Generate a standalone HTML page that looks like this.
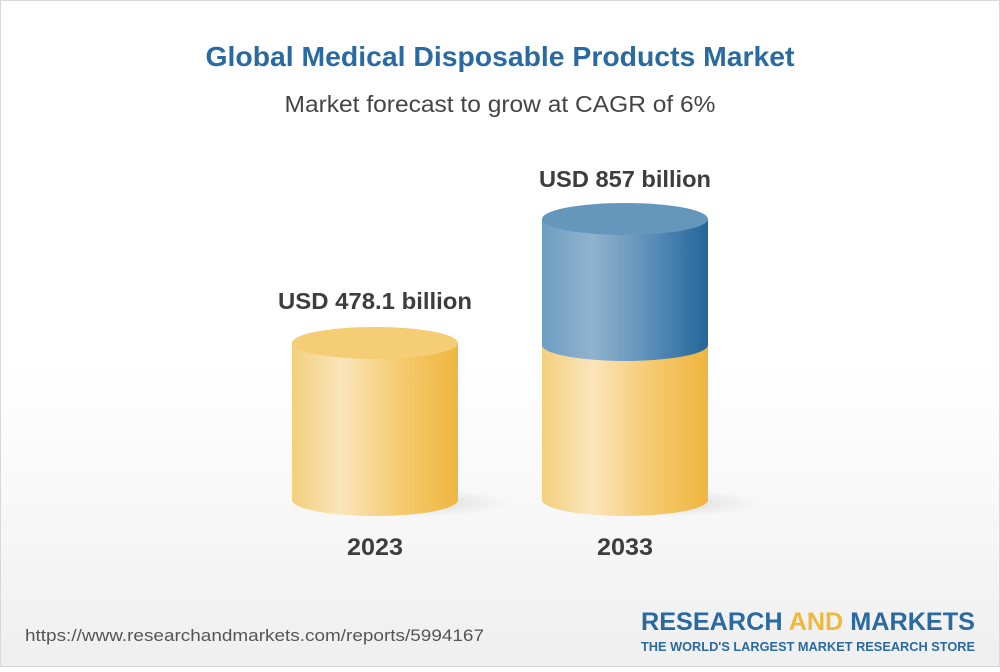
<!DOCTYPE html>
<html><head><style>
html,body{margin:0;padding:0;}
body{width:1000px;height:667px;overflow:hidden;font-family:"Liberation Sans",sans-serif;}
</style></head><body>
<svg width="1000" height="667" xmlns="http://www.w3.org/2000/svg">
<defs>
<linearGradient id="bg" x1="0" y1="0" x2="0" y2="1">
<stop offset="0" stop-color="#ffffff"/><stop offset="0.55" stop-color="#ffffff"/><stop offset="1" stop-color="#efefef"/></linearGradient>
<linearGradient id="yel" x1="0" y1="0" x2="1" y2="0">
<stop offset="0" stop-color="#f3cf7e"/><stop offset="0.3" stop-color="#fae5bb"/><stop offset="0.65" stop-color="#f5ca70"/><stop offset="1" stop-color="#efb63f"/></linearGradient>
<linearGradient id="blu" x1="0" y1="0" x2="1" y2="0">
<stop offset="0" stop-color="#6d9ec3"/><stop offset="0.3" stop-color="#91b3cd"/><stop offset="0.65" stop-color="#5b8fb9"/><stop offset="1" stop-color="#246699"/></linearGradient>
<radialGradient id="sh" cx="0.5" cy="0.5" r="0.5"><stop offset="0" stop-color="#000" stop-opacity="0.12"/><stop offset="1" stop-color="#000" stop-opacity="0"/></radialGradient>
</defs>
<rect x="0.5" y="0.5" width="999" height="666" fill="url(#bg)" stroke="#d8d8d8"/>
<text x="500" y="66" text-anchor="middle" font-size="28" font-weight="bold" fill="#2a6aa0" textLength="589" lengthAdjust="spacingAndGlyphs">Global Medical Disposable Products Market</text>
<text x="500" y="112" text-anchor="middle" font-size="23" fill="#444" textLength="431" lengthAdjust="spacingAndGlyphs">Market forecast to grow at CAGR of 6%</text>
<ellipse cx="420" cy="503" rx="90" ry="14" fill="url(#sh)"/>
<ellipse cx="670" cy="503" rx="90" ry="14" fill="url(#sh)"/>
<path d="M292 343 V500 A83 16 0 0 0 458 500 V343 Z" fill="url(#yel)"/>
<ellipse cx="375" cy="343" rx="83" ry="16" fill="#f4cd75"/>
<path d="M542 345 V500 A83 16 0 0 0 708 500 V345 Z" fill="url(#yel)"/>
<path d="M542 219 V345 A83 16 0 0 0 708 345 V219 Z" fill="url(#blu)"/>
<ellipse cx="625" cy="219" rx="83" ry="16" fill="#6596bc"/>
<text x="375" y="309" text-anchor="middle" font-size="23" font-weight="bold" fill="#3d3d3d" textLength="194" lengthAdjust="spacingAndGlyphs">USD 478.1 billion</text>
<text x="625" y="187" text-anchor="middle" font-size="23" font-weight="bold" fill="#3d3d3d" textLength="172" lengthAdjust="spacingAndGlyphs">USD 857 billion</text>
<text x="375" y="555" text-anchor="middle" font-size="24" font-weight="bold" fill="#3d3d3d" textLength="56" lengthAdjust="spacingAndGlyphs">2023</text>
<text x="625" y="555" text-anchor="middle" font-size="24" font-weight="bold" fill="#3d3d3d" textLength="56" lengthAdjust="spacingAndGlyphs">2033</text>
<text x="25" y="641" font-size="17" fill="#555" textLength="459" lengthAdjust="spacingAndGlyphs">https://www.researchandmarkets.com/reports/5994167</text>
<text x="808" y="630" text-anchor="middle" font-size="25" font-weight="bold" fill="#2a6aa0" textLength="334" lengthAdjust="spacingAndGlyphs">RESEARCH <tspan fill="#f0b93d">AND</tspan> MARKETS</text>
<text x="808" y="651" text-anchor="middle" font-size="12.5" font-weight="bold" fill="#2a6aa0" textLength="334" lengthAdjust="spacingAndGlyphs">THE WORLD'S LARGEST MARKET RESEARCH STORE</text>
</svg>
</body></html>
